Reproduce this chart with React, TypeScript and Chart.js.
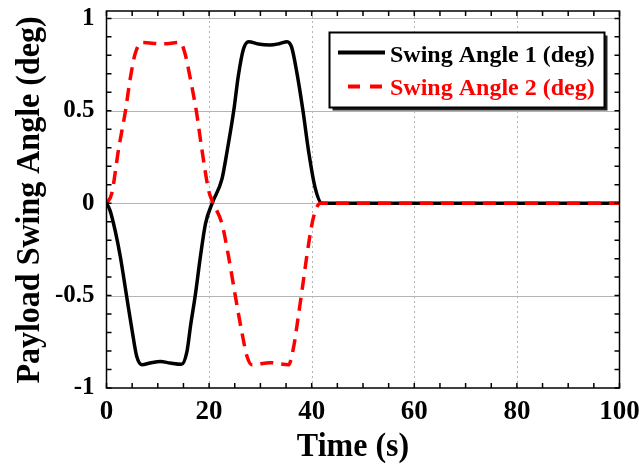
import { useEffect, useRef } from "react";
import { Chart, registerables } from "chart.js";

Chart.register(...registerables);

// ---- Data ----
const seriesLabels = ["Swing Angle 1 (deg)", "Swing Angle 2 (deg)"];
const xTitle = "Time (s)";
const yTitle = "Payload Swing Angle (deg)";

const xTicks = [0, 20, 40, 60, 80, 100];
const yTicks = [-1, -0.5, 0, 0.5, 1];

const timeAngle1 = [
  0, 0.7, 1.7, 2.7, 3.9, 5.0, 5.9, 6.9, 8.5, 10.5, 12.4, 14.6, 15.7, 16.4, 17.3,
  18.3, 19.3, 20.6, 22.5, 23.5, 24.8, 25.7, 26.7, 27.7, 29.6, 31.9, 33.8, 35.2,
  36.1, 37.1, 38.3, 39.4, 40.7, 42.0, 100,
];
const angle1 = [
  0, -0.04, -0.15, -0.29, -0.5, -0.69, -0.83, -0.874, -0.865, -0.857, -0.865,
  -0.872, -0.8, -0.66, -0.5, -0.29, -0.11, 0, 0.13, 0.28, 0.5, 0.69, 0.834,
  0.874, 0.861, 0.856, 0.864, 0.874, 0.843, 0.708, 0.5, 0.28, 0.08, 0, 0,
];

const timeAngle2 = [
  0, 1.0, 2.4, 3.7, 4.6, 5.6, 6.9, 10.8, 14.4, 15.3, 16.3, 17.5, 18.6, 19.9,
  20.8, 22.5, 23.8, 25.1, 26.4, 27.4, 28.3, 31.9, 35.5, 36.5, 37.4, 38.4, 39.4,
  40.4, 41.7, 100,
];
const angle2 = [
  0, 0.05, 0.3, 0.5, 0.67, 0.81, 0.87, 0.862, 0.87, 0.81, 0.68, 0.5, 0.29, 0.07,
  0, -0.11, -0.29, -0.5, -0.7, -0.83, -0.874, -0.863, -0.874, -0.775, -0.61,
  -0.415, -0.22, -0.07, 0, 0,
];

const FONT = "'Liberation Serif', 'Times New Roman', serif";

const framePlugin = {
  id: "frame",
  beforeDatasetsDraw(chart: any) {
    const { ctx, chartArea: a, scales } = chart;
    const x = scales.x;
    const y = scales.y;
    ctx.save();
    ctx.strokeStyle = "#b4b4b4";
    ctx.lineWidth = 1;
    for (const v of yTicks) {
      if (v <= -1) continue;
      const py = Math.round(y.getPixelForValue(v)) + 0.5;
      ctx.beginPath();
      ctx.moveTo(a.left, py);
      ctx.lineTo(a.right, py);
      ctx.stroke();
    }
    ctx.setLineDash([2, 3]);
    for (const v of xTicks) {
      if (v <= 0 || v >= 100) continue;
      const px = Math.round(x.getPixelForValue(v)) + 0.5;
      ctx.beginPath();
      ctx.moveTo(px, a.top);
      ctx.lineTo(px, a.bottom);
      ctx.stroke();
    }
    ctx.restore();
  },
  afterDatasetsDraw(chart: any) {
    const { ctx, chartArea: a, scales } = chart;
    const x = scales.x;
    const y = scales.y;
    ctx.save();
    ctx.strokeStyle = "#000";
    ctx.lineWidth = 1.5;
    ctx.strokeRect(a.left, a.top, a.right - a.left, a.bottom - a.top);
    const tl = 5;
    ctx.beginPath();
    for (let i = 0; i <= 20; i++) {
      const px = x.getPixelForValue(i * 5);
      ctx.moveTo(px, a.bottom);
      ctx.lineTo(px, a.bottom - tl);
      ctx.moveTo(px, a.top);
      ctx.lineTo(px, a.top + tl);
    }
    for (let i = -10; i <= 10; i++) {
      const py = y.getPixelForValue(i / 10);
      ctx.moveTo(a.left, py);
      ctx.lineTo(a.left + tl, py);
      ctx.moveTo(a.right, py);
      ctx.lineTo(a.right - tl, py);
    }
    ctx.stroke();
    ctx.restore();
  },
  afterDraw(chart: any) {
    const { ctx } = chart;
    ctx.save();
    // axis titles
    ctx.fillStyle = "#000";
    ctx.font = `bold 32px ${FONT}`;
    ctx.textAlign = "center";
    ctx.textBaseline = "alphabetic";
    ctx.save();
    ctx.translate(353, 456);
    ctx.scale(1, 1.08);
    ctx.fillText(xTitle, 0, 0);
    ctx.restore();
    ctx.save();
    ctx.translate(39, 200);
    ctx.rotate(-Math.PI / 2);
    ctx.scale(1, 1.08);
    ctx.fillText(yTitle, 0, 0);
    ctx.restore();

    // legend
    const bx = 329.5;
    const by = 32.5;
    const bw = 275;
    const bh = 75;
    ctx.fillStyle = "#222";
    ctx.fillRect(bx + 3, by + 3, bw, bh);
    ctx.fillStyle = "#fff";
    ctx.fillRect(bx, by, bw, bh);
    ctx.strokeStyle = "#000";
    ctx.lineWidth = 2;
    ctx.strokeRect(bx, by, bw, bh);

    ctx.lineWidth = 4;
    ctx.beginPath();
    ctx.moveTo(338, 52.5);
    ctx.lineTo(385, 52.5);
    ctx.stroke();

    ctx.strokeStyle = "#ff0000";
    ctx.setLineDash([12, 10]);
    ctx.lineDashOffset = 12;
    ctx.beginPath();
    ctx.moveTo(338, 86.5);
    ctx.lineTo(385, 86.5);
    ctx.stroke();
    ctx.setLineDash([]);

    ctx.font = `bold 24px ${FONT}`;
    ctx.textAlign = "left";
    ctx.fillStyle = "#000";
    ctx.fillText(seriesLabels[0], 390, 61.5);
    ctx.fillStyle = "#ff0000";
    ctx.fillText(seriesLabels[1], 390, 95);
    ctx.restore();
  },
};

const zeroPad = (s: any) => {
  s.paddingLeft = 0;
  s.paddingRight = 0;
  s.paddingTop = 0;
  s.paddingBottom = 0;
};

export default function App() {
  const ref = useRef<HTMLCanvasElement | null>(null);

  useEffect(() => {
    document.body.style.margin = "0";
    const canvas = ref.current;
    if (!canvas) return;
    const toPts = (ts: number[], vs: number[]) => ts.map((t, i) => ({ x: t, y: vs[i] }));
    const chart = new Chart(canvas, {
      type: "line",
      data: {
        datasets: [
          {
            label: seriesLabels[0],
            data: toPts(timeAngle1, angle1),
            borderColor: "#000000",
            borderWidth: 3.5,
            pointRadius: 0,
            cubicInterpolationMode: "monotone",
            fill: false,
            order: 1,
          },
          {
            label: seriesLabels[1],
            data: toPts(timeAngle2, angle2),
            borderColor: "#ff0000",
            borderWidth: 3.5,
            borderDash: [13, 8],
            pointRadius: 0,
            cubicInterpolationMode: "monotone",
            fill: false,
            order: 0,
          },
        ],
      },
      options: {
        animation: false,
        responsive: false,
        maintainAspectRatio: false,
        layout: { padding: { left: 0, top: 11, right: 19.5, bottom: 0 } },
        plugins: { legend: { display: false }, tooltip: { enabled: false } },
        scales: {
          x: {
            type: "linear",
            min: 0,
            max: 100,
            grid: { display: false, drawTicks: false },
            border: { display: false },
            afterBuildTicks: (s: any) => {
              s.ticks = xTicks.map((v) => ({ value: v }));
            },
            afterFit: (s: any) => {
              s.height = 78;
              zeroPad(s);
            },
            ticks: {
              color: "#000",
              font: { family: FONT, weight: "bold", size: 27 },
              padding: 8,
              maxRotation: 0,
              callback: (v: any) => String(v),
            },
          },
          y: {
            type: "linear",
            min: -1,
            max: 1.04,
            grid: { display: false, drawTicks: false },
            border: { display: false },
            afterBuildTicks: (s: any) => {
              s.ticks = yTicks.map((v) => ({ value: v }));
            },
            afterFit: (s: any) => {
              s.width = 106.5;
              zeroPad(s);
            },
            ticks: {
              color: "#000",
              font: { family: FONT, weight: "bold", size: 25 },
              padding: 12,
              callback: (v: any) => String(v),
            },
          },
        },
      },
      plugins: [framePlugin],
    });
    return () => chart.destroy();
  }, []);

  return (
    <div style={{ width: 639, height: 466 }}>
      <canvas ref={ref} width={639} height={466} style={{ display: "block" }} />
    </div>
  );
}
